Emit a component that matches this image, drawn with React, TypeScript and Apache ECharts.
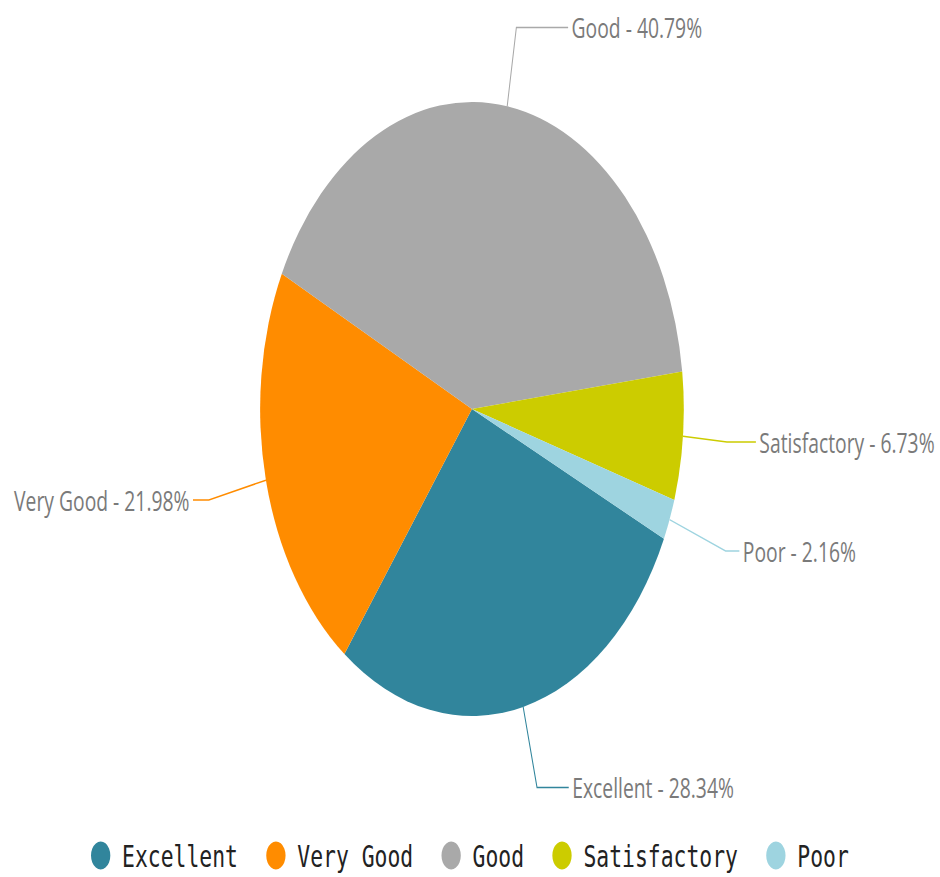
import React, { useEffect, useRef } from "react";
import * as echarts from "echarts";

const categories = ["Excellent", "Very Good", "Good", "Satisfactory", "Poor"];
const shares = [28.34, 21.98, 40.79, 6.73, 2.16];
const colors = ["#31859C", "#FF8C00", "#A9A9A9", "#CCCC00", "#9ED4E0"];
const lineLengths = [83, 85, 80, 64, 87];
const lineLengths2 = [46, 23, 75, 42, 20];

const SQUASH = 0.69;
const W = 1362;
const H = 877;

export default function App() {
  const ref = useRef<HTMLDivElement>(null);
  useEffect(() => {
    const chart = echarts.init(ref.current!, null, { renderer: "svg" });
    chart.setOption({
      animation: false,
      color: colors,
      legend: {
        data: categories,
        top: 835,
        left: "center",
        icon: "circle",
        itemWidth: 28,
        itemHeight: 28,
        itemGap: 41,
        textStyle: {
          fontFamily: "DejaVu Sans Mono",
          fontSize: 31,
          color: "#222",
          padding: [0, 0, 0, 12],
        },
      },
      series: [
        {
          type: "pie",
          center: [684, 409],
          radius: 307,
          startAngle: -25,
          clockwise: true,
          avoidLabelOverlap: false,
          itemStyle: { borderWidth: 0 },
          label: {
            formatter: "{b} - {d}%",
            fontFamily: "Open Sans",
            fontSize: 28,
            color: "#7a7a7a",
            overflow: "none",
            bleedMargin: 0,
          },
          labelLine: { lineStyle: { width: 1.5 } },
          emphasis: { disabled: true },
          data: categories.map((name, i) => ({
            name,
            value: shares[i],
            labelLine: { length: lineLengths[i], length2: lineLengths2[i] },
          })),
        },
      ],
    });
    return () => chart.dispose();
  }, []);
  return (
    <div style={{ position: "fixed", left: 0, top: 0, width: 940, height: 877, overflow: "hidden", background: "#fff" }}>
      <div
        ref={ref}
        style={{ width: W, height: H, transform: `scaleX(${SQUASH})`, transformOrigin: "0 0" }}
      />
    </div>
  );
}
